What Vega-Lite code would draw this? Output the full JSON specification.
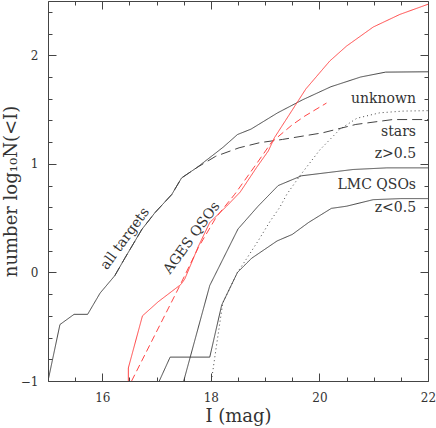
{
  "$schema": "https://vega.github.io/schema/vega-lite/v6.json",
  "width": 380,
  "height": 380,
  "autosize": "none",
  "padding": {"left": 48, "top": 1, "right": 8, "bottom": 47},
  "background": "white",
  "config": {
    "view": {"stroke": "#444", "strokeWidth": 1},
    "font": "DejaVu Serif",
    "axis": {"labelFont": "DejaVu Serif", "titleFont": "DejaVu Serif", "labelColor": "#333", "titleColor": "#333", "titleFontWeight": "normal", "domain": false, "grid": false, "tickColor": "#444", "labelFlush": false, "labelOverlap": false, "labelBound": false}
  },
  "datasets": {
    "curves": [
      {"series": "all targets", "mag": 15.0, "logN": -1.0},
      {"series": "all targets", "mag": 15.22, "logN": -0.48},
      {"series": "all targets", "mag": 15.48, "logN": -0.386},
      {"series": "all targets", "mag": 15.73, "logN": -0.386},
      {"series": "all targets", "mag": 15.96, "logN": -0.19},
      {"series": "all targets", "mag": 16.23, "logN": -0.03},
      {"series": "all targets", "mag": 16.42, "logN": 0.135},
      {"series": "all targets", "mag": 16.73, "logN": 0.397},
      {"series": "all targets", "mag": 16.97, "logN": 0.55},
      {"series": "all targets", "mag": 17.28, "logN": 0.718},
      {"series": "all targets", "mag": 17.46, "logN": 0.87},
      {"series": "all targets", "mag": 17.74, "logN": 0.965},
      {"series": "all targets", "mag": 18.09, "logN": 1.1},
      {"series": "all targets", "mag": 18.23, "logN": 1.155},
      {"series": "all targets", "mag": 18.49, "logN": 1.27},
      {"series": "all targets", "mag": 18.74, "logN": 1.32},
      {"series": "all targets", "mag": 19.23, "logN": 1.47},
      {"series": "all targets", "mag": 19.69, "logN": 1.59},
      {"series": "all targets", "mag": 20.21, "logN": 1.71},
      {"series": "all targets", "mag": 20.76, "logN": 1.8},
      {"series": "all targets", "mag": 21.22, "logN": 1.845},
      {"series": "all targets", "mag": 22.0, "logN": 1.848},

      {"series": "stars", "mag": 16.23, "logN": -0.03},
      {"series": "stars", "mag": 16.42, "logN": 0.135},
      {"series": "stars", "mag": 16.73, "logN": 0.397},
      {"series": "stars", "mag": 16.97, "logN": 0.55},
      {"series": "stars", "mag": 17.28, "logN": 0.718},
      {"series": "stars", "mag": 17.46, "logN": 0.87},
      {"series": "stars", "mag": 17.74, "logN": 0.965},
      {"series": "stars", "mag": 18.09, "logN": 1.07},
      {"series": "stars", "mag": 18.52, "logN": 1.148},
      {"series": "stars", "mag": 18.9, "logN": 1.195},
      {"series": "stars", "mag": 19.32, "logN": 1.225},
      {"series": "stars", "mag": 20.06, "logN": 1.286},
      {"series": "stars", "mag": 20.67, "logN": 1.363},
      {"series": "stars", "mag": 21.35, "logN": 1.408},
      {"series": "stars", "mag": 22.0, "logN": 1.408},

      {"series": "unknown", "mag": 18.01, "logN": -1.0},
      {"series": "unknown", "mag": 18.09, "logN": -0.72},
      {"series": "unknown", "mag": 18.22, "logN": -0.28},
      {"series": "unknown", "mag": 18.49, "logN": 0.0},
      {"series": "unknown", "mag": 18.65, "logN": 0.12},
      {"series": "unknown", "mag": 18.87, "logN": 0.29},
      {"series": "unknown", "mag": 19.09, "logN": 0.47},
      {"series": "unknown", "mag": 19.27, "logN": 0.6},
      {"series": "unknown", "mag": 19.4, "logN": 0.72},
      {"series": "unknown", "mag": 19.64, "logN": 0.89},
      {"series": "unknown", "mag": 20.01, "logN": 1.13},
      {"series": "unknown", "mag": 20.38, "logN": 1.32},
      {"series": "unknown", "mag": 20.69, "logN": 1.42},
      {"series": "unknown", "mag": 21.11, "logN": 1.47},
      {"series": "unknown", "mag": 21.54, "logN": 1.486},
      {"series": "unknown", "mag": 22.0, "logN": 1.49},

      {"series": "AGES QSOs", "mag": 16.48, "logN": -1.0},
      {"series": "AGES QSOs", "mag": 16.48, "logN": -0.88},
      {"series": "AGES QSOs", "mag": 16.74, "logN": -0.4},
      {"series": "AGES QSOs", "mag": 17.03, "logN": -0.27},
      {"series": "AGES QSOs", "mag": 17.45, "logN": -0.11},
      {"series": "AGES QSOs", "mag": 17.52, "logN": -0.06},
      {"series": "AGES QSOs", "mag": 17.77, "logN": 0.24},
      {"series": "AGES QSOs", "mag": 17.98, "logN": 0.46},
      {"series": "AGES QSOs", "mag": 18.29, "logN": 0.61},
      {"series": "AGES QSOs", "mag": 18.54, "logN": 0.74},
      {"series": "AGES QSOs", "mag": 18.84, "logN": 0.965},
      {"series": "AGES QSOs", "mag": 19.06, "logN": 1.12},
      {"series": "AGES QSOs", "mag": 19.17, "logN": 1.24},
      {"series": "AGES QSOs", "mag": 19.75, "logN": 1.69},
      {"series": "AGES QSOs", "mag": 20.19, "logN": 1.947},
      {"series": "AGES QSOs", "mag": 20.5, "logN": 2.085},
      {"series": "AGES QSOs", "mag": 20.99, "logN": 2.26},
      {"series": "AGES QSOs", "mag": 21.48, "logN": 2.376},
      {"series": "AGES QSOs", "mag": 22.0, "logN": 2.47},

      {"series": "AGES QSOs alt", "mag": 16.54, "logN": -1.0},
      {"series": "AGES QSOs alt", "mag": 17.43, "logN": -0.12},
      {"series": "AGES QSOs alt", "mag": 17.77, "logN": 0.23},
      {"series": "AGES QSOs alt", "mag": 18.1, "logN": 0.51},
      {"series": "AGES QSOs alt", "mag": 18.44, "logN": 0.72},
      {"series": "AGES QSOs alt", "mag": 18.84, "logN": 1.0},
      {"series": "AGES QSOs alt", "mag": 19.12, "logN": 1.2},
      {"series": "AGES QSOs alt", "mag": 19.5, "logN": 1.36},
      {"series": "AGES QSOs alt", "mag": 19.73, "logN": 1.44},
      {"series": "AGES QSOs alt", "mag": 20.13, "logN": 1.56},

      {"series": "LMC QSOs z>0.5", "mag": 17.5, "logN": -1.0},
      {"series": "LMC QSOs z>0.5", "mag": 17.98, "logN": -0.12},
      {"series": "LMC QSOs z>0.5", "mag": 18.5, "logN": 0.4},
      {"series": "LMC QSOs z>0.5", "mag": 18.87, "logN": 0.61},
      {"series": "LMC QSOs z>0.5", "mag": 19.24, "logN": 0.8},
      {"series": "LMC QSOs z>0.5", "mag": 19.67, "logN": 0.89},
      {"series": "LMC QSOs z>0.5", "mag": 20.62, "logN": 0.948},
      {"series": "LMC QSOs z>0.5", "mag": 21.24, "logN": 0.963},
      {"series": "LMC QSOs z>0.5", "mag": 22.0, "logN": 0.963},

      {"series": "LMC QSOs z<0.5", "mag": 17.05, "logN": -1.0},
      {"series": "LMC QSOs z<0.5", "mag": 17.25, "logN": -0.78},
      {"series": "LMC QSOs z<0.5", "mag": 17.98, "logN": -0.78},
      {"series": "LMC QSOs z<0.5", "mag": 18.2, "logN": -0.3},
      {"series": "LMC QSOs z<0.5", "mag": 18.49, "logN": 0.0},
      {"series": "LMC QSOs z<0.5", "mag": 18.75, "logN": 0.13},
      {"series": "LMC QSOs z<0.5", "mag": 19.22, "logN": 0.29},
      {"series": "LMC QSOs z<0.5", "mag": 19.5, "logN": 0.35},
      {"series": "LMC QSOs z<0.5", "mag": 19.8, "logN": 0.46},
      {"series": "LMC QSOs z<0.5", "mag": 20.22, "logN": 0.59},
      {"series": "LMC QSOs z<0.5", "mag": 20.5, "logN": 0.61},
      {"series": "LMC QSOs z<0.5", "mag": 20.99, "logN": 0.67},
      {"series": "LMC QSOs z<0.5", "mag": 21.5, "logN": 0.68},
      {"series": "LMC QSOs z<0.5", "mag": 22.0, "logN": 0.68}
    ],
    "rightLabels": [
      {"label": "unknown", "mag": 21.78, "logN": 1.597},
      {"label": "stars", "mag": 21.78, "logN": 1.293},
      {"label": "z>0.5", "mag": 21.78, "logN": 1.093},
      {"label": "LMC QSOs", "mag": 21.78, "logN": 0.802},
      {"label": "z<0.5", "mag": 21.78, "logN": 0.596}
    ],
    "slantLabels": [
      {"label": "all targets", "mag": 16.42, "logN": 0.31},
      {"label": "AGES QSOs", "mag": 17.65, "logN": 0.317}
    ]
  },
  "resolve": {"axis": {"x": "independent", "y": "independent"}},
  "layer": [
    {
      "data": {"name": "curves"},
      "mark": {"type": "line", "strokeWidth": 1, "clip": true},
      "encoding": {
        "x": {
          "field": "mag", "type": "quantitative",
          "scale": {"domain": [15, 22], "nice": false, "zero": false},
          "axis": {
            "orient": "bottom",
            "title": "I (mag)",
            "titleFontSize": 18,
            "titlePadding": 0,
            "labelFontSize": 12,
            "labelPadding": 19,
            "values": [15, 15.5, 16, 16.5, 17, 17.5, 18, 18.5, 19, 19.5, 20, 20.5, 21, 21.5, 22],
            "labelExpr": "datum.value % 2 === 0 ? format(datum.value, '.0f') : ''",
            "tickSize": {"condition": {"test": "datum.value % 2 === 0", "value": -8}, "value": -4}
          }
        },
        "y": {
          "field": "logN", "type": "quantitative",
          "scale": {"domain": [-1, 2.5], "nice": false, "zero": false},
          "axis": {
            "orient": "left",
            "title": "number log₁₀N(<I)",
            "titleFontSize": 18,
            "titlePadding": 0,
            "labelFontSize": 12,
            "labelPadding": 18,
            "values": [-1, -0.8, -0.6, -0.4, -0.2, 0, 0.2, 0.4, 0.6, 0.8, 1, 1.2, 1.4, 1.6, 1.8, 2, 2.2, 2.4],
            "labelExpr": "abs(datum.value - round(datum.value)) < 0.001 ? format(round(datum.value), '.0f') : ''",
            "tickSize": {"condition": {"test": "abs(datum.value - round(datum.value)) < 0.001", "value": -8}, "value": -4}
          }
        },
        "detail": {"field": "series"},
        "color": {
          "field": "series", "type": "nominal", "legend": null,
          "scale": {
            "domain": ["all targets", "stars", "unknown", "AGES QSOs", "AGES QSOs alt", "LMC QSOs z>0.5", "LMC QSOs z<0.5"],
            "range": ["#444", "#444", "#444", "#ff4545", "#ff4545", "#444", "#444"]
          }
        },
        "strokeDash": {
          "field": "series", "type": "nominal", "legend": null,
          "scale": {
            "domain": ["all targets", "stars", "unknown", "AGES QSOs", "AGES QSOs alt", "LMC QSOs z>0.5", "LMC QSOs z<0.5"],
            "range": [[1, 0], [10, 5], [1, 3], [1, 0], [7, 4], [1, 0], [1, 0]]
          }
        }
      }
    },
    {
      "data": {"name": "rightLabels"},
      "mark": {"type": "text", "align": "right", "baseline": "middle", "fontSize": 14, "font": "DejaVu Serif", "color": "#333"},
      "encoding": {
        "x": {
          "field": "mag", "type": "quantitative",
          "axis": {
            "orient": "top", "title": null, "labels": false,
            "values": [15, 15.5, 16, 16.5, 17, 17.5, 18, 18.5, 19, 19.5, 20, 20.5, 21, 21.5, 22],
            "tickSize": {"condition": {"test": "datum.value % 2 === 0", "value": -8}, "value": -4}
          }
        },
        "y": {
          "field": "logN", "type": "quantitative",
          "axis": {
            "orient": "right", "title": null, "labels": false,
            "values": [-1, -0.8, -0.6, -0.4, -0.2, 0, 0.2, 0.4, 0.6, 0.8, 1, 1.2, 1.4, 1.6, 1.8, 2, 2.2, 2.4],
            "tickSize": {"condition": {"test": "abs(datum.value - round(datum.value)) < 0.001", "value": -8}, "value": -4}
          }
        },
        "text": {"field": "label"}
      }
    },
    {
      "data": {"name": "slantLabels"},
      "mark": {"type": "text", "align": "center", "baseline": "middle", "fontSize": 14, "font": "DejaVu Serif", "color": "#333", "angle": -54},
      "encoding": {
        "x": {"field": "mag", "type": "quantitative", "axis": null},
        "y": {"field": "logN", "type": "quantitative", "axis": null},
        "text": {"field": "label"}
      }
    }
  ]
}
